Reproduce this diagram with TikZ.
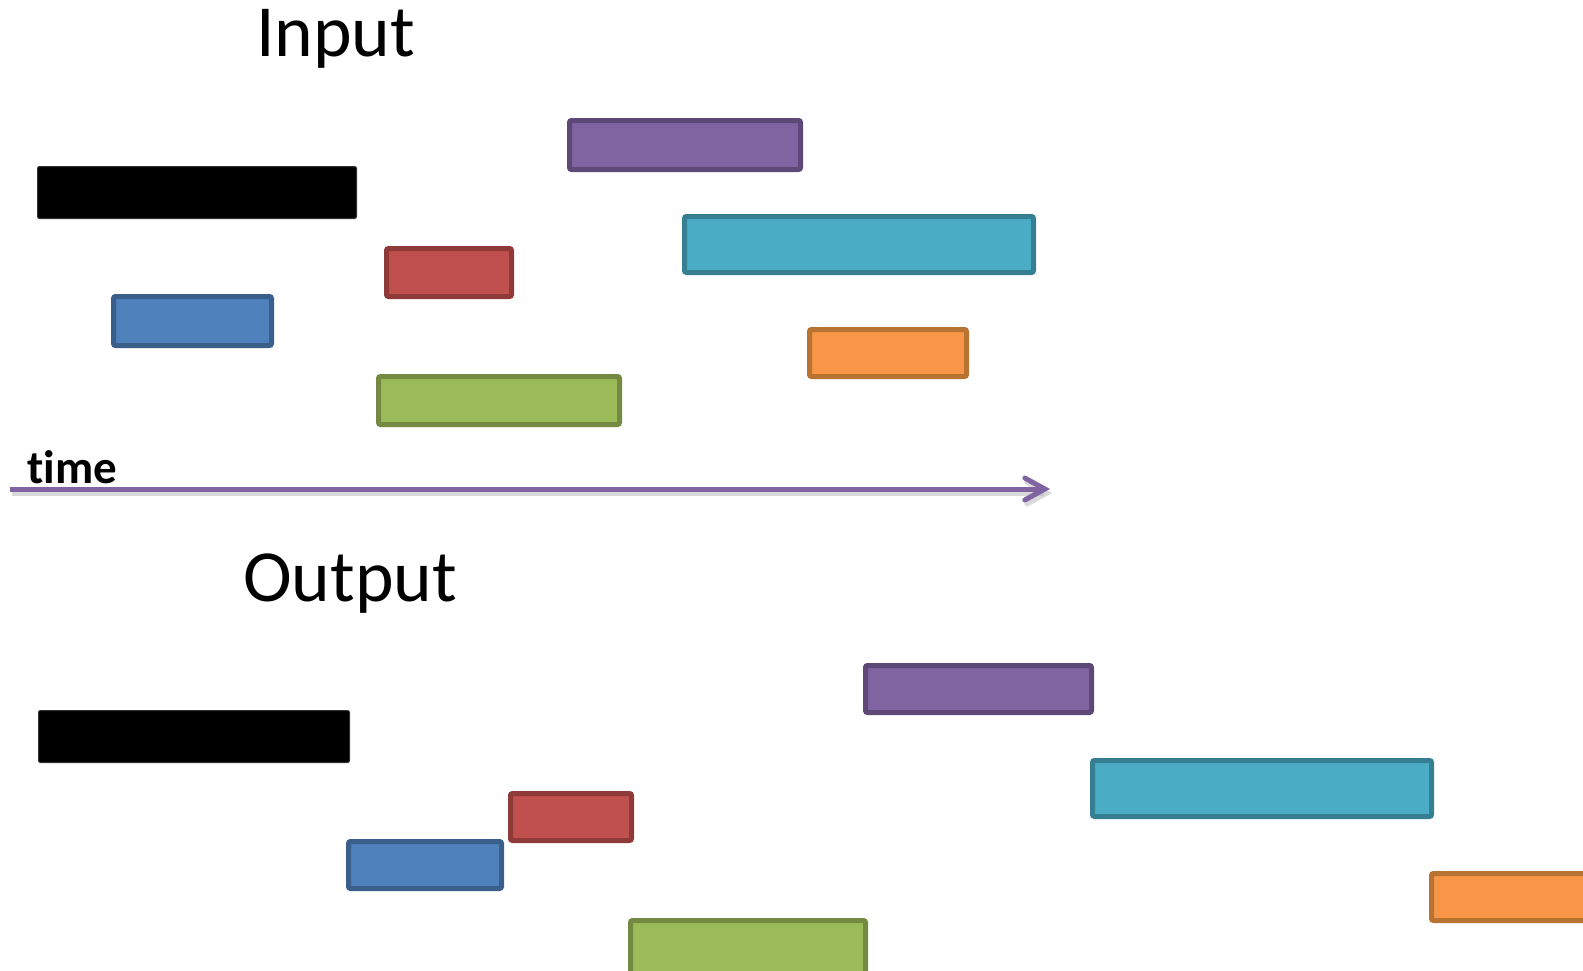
\documentclass[tikz,border=0pt]{standalone}
\usepackage{fontspec}
\setmainfont[Ligatures=NoCommon]{Carlito}
\usetikzlibrary{arrows.meta}

\definecolor{purpleF}{HTML}{8064A2}\definecolor{purpleD}{HTML}{5E4878}
\definecolor{cyanF}{HTML}{4BACC6}\definecolor{cyanD}{HTML}{367E91}
\definecolor{redF}{HTML}{C0504D}\definecolor{redD}{HTML}{8E3A38}
\definecolor{blueF}{HTML}{4F81BD}\definecolor{blueD}{HTML}{3A5F8B}
\definecolor{orangeF}{HTML}{F79646}\definecolor{orangeD}{HTML}{B87333}
\definecolor{greenF}{HTML}{9BBB59}\definecolor{greenD}{HTML}{748A42}
\definecolor{axisC}{HTML}{8064A2}

\begin{document}
\begin{tikzpicture}[x=1pt,y=-1pt,
  bar/.style 2 args={draw=#1, fill=#2, line width=5pt, rounded corners=2pt,
                     inner sep=0pt, outer sep=0pt, anchor=north west},
  blackbar/.style={draw=black!80, fill=black, line width=1pt, rounded corners=2pt,
                   inner sep=0pt, outer sep=0pt, anchor=north west},
  title/.style={font=\fontsize{73.5}{80}\selectfont, anchor=base west, inner sep=0pt},
  axislabel/.style={font=\fontsize{47}{52}\selectfont\bfseries, anchor=base west, inner sep=0pt}
]
\useasboundingbox (0,0) rectangle (1583,970);

% a bar spanning (x1,y1)-(x2,y2) in outer edges
\newcommand{\timebar}[6]{%
  \node[bar={#1}{#2}, minimum width={#5-#3-5pt}, minimum height={#6-#4-5pt}]
    (#1-#3-#4) at (#3+2.5,#4+2.5) {};}
\newcommand{\blackbar}[5]{%
  \node[blackbar, minimum width={#4-#2-1pt}, minimum height={#5-#3-1pt}]
    (#1) at (#2+0.5,#3+0.5) {};}

% headings
\node[title] (inTitle) at (256,56) {Input};
\node[title] (outTitle) at (243,601) {Output};

% input schedule
\blackbar{inBlack}{37}{166}{357}{219}
\timebar{purpleD}{purpleF}{567}{118}{803}{172}
\timebar{cyanD}{cyanF}{682}{214}{1036}{275}
\timebar{redD}{redF}{384}{246}{514}{299}
\timebar{blueD}{blueF}{111}{294}{274}{348}
\timebar{orangeD}{orangeF}{807}{327}{969}{379}
\timebar{greenD}{greenF}{376}{374}{622}{427}

% time axis
\node[axislabel] (timeLbl) at (27,483) {time};
\coordinate (t0) at (10,489);
\coordinate (t1) at (1050,489);
\draw[line width=5pt, black!25, opacity=0.6, -{Straight Barb[length=20pt,width=22pt,line cap=round]}]
  ([shift={(2,4)}]t0) -- ([shift={(2,4)}]t1);
\draw[line width=5pt, axisC, -{Straight Barb[length=20pt,width=22pt,line cap=round]}]
  (t0) -- (t1);

% output schedule
\blackbar{outBlack}{38}{710}{350}{763}
\timebar{purpleD}{purpleF}{863}{663}{1094}{715}
\timebar{cyanD}{cyanF}{1090}{758}{1434}{819}
\timebar{redD}{redF}{508}{791}{634}{843}
\timebar{blueD}{blueF}{346}{839}{504}{891}
\timebar{orangeD}{orangeF}{1429}{871}{1600}{923}
\timebar{greenD}{greenF}{628}{918}{868}{985}
\end{tikzpicture}
\end{document}
